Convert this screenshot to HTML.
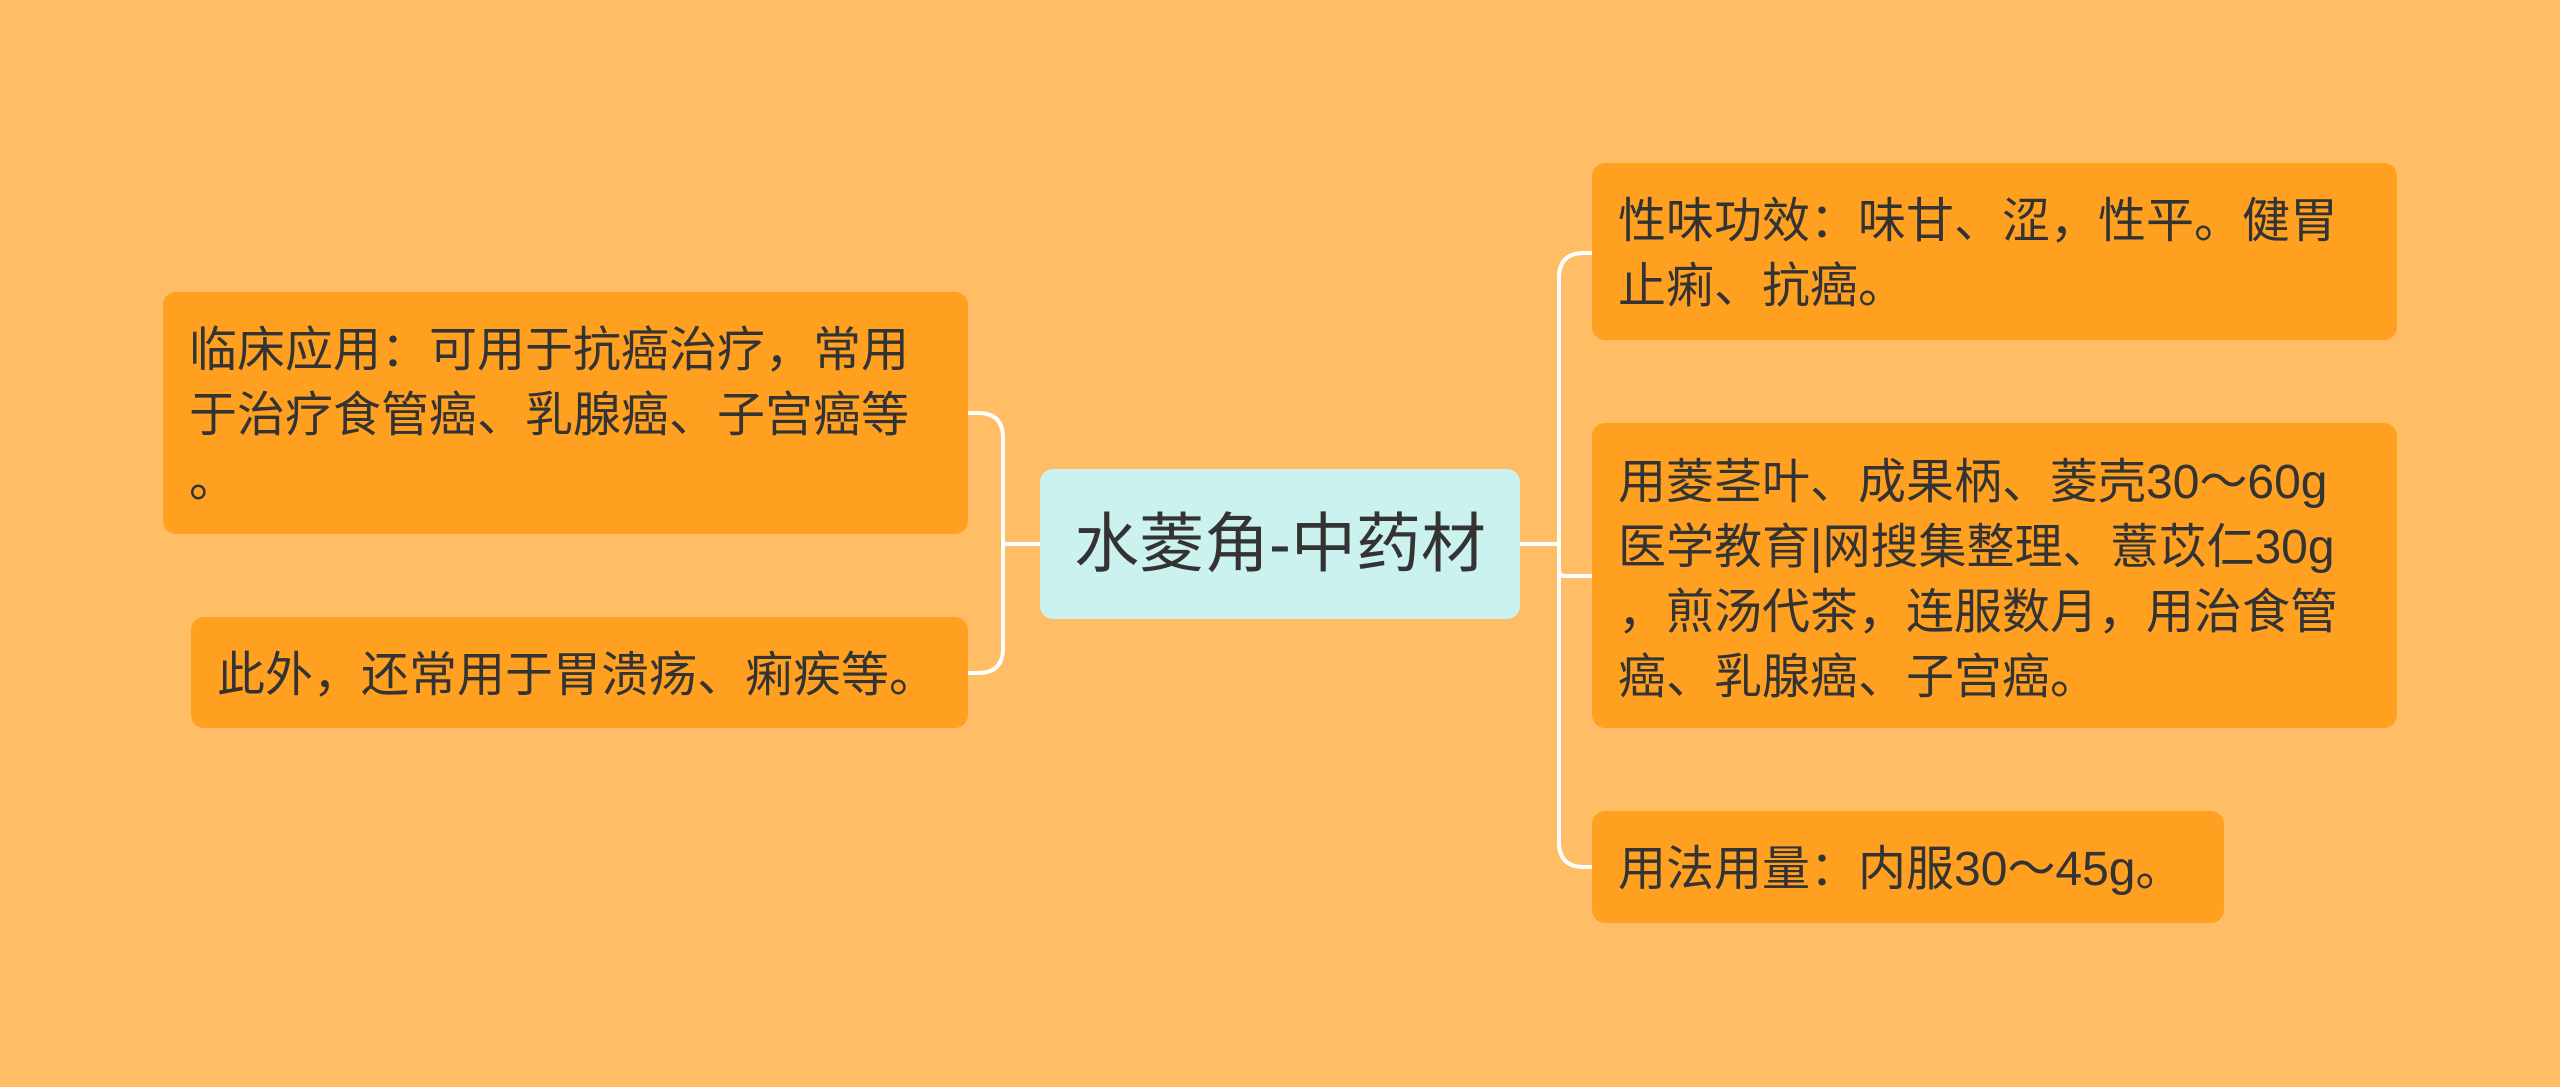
<!DOCTYPE html>
<html><head><meta charset="utf-8"><style>
body{margin:0;width:2560px;height:1087px;background:#FFBE66;position:relative;overflow:hidden;font-family:"Liberation Sans","Noto Sans CJK SC",sans-serif;}
.n{position:absolute;background:#FFA020;border-radius:13px;color:#333;font-size:48px;line-height:65px;box-sizing:border-box;padding:0 0 0 26px;white-space:nowrap;}
.c{position:absolute;left:1040px;top:469px;width:480px;height:150px;background:#CCF2F0;border-radius:13px;color:#333;font-size:65px;line-height:150px;text-align:center;}
</style></head><body>
<svg width="2560" height="1087" style="position:absolute;left:0;top:0" fill="none" stroke="#fff" stroke-width="4">
<path d="M1520 544 H1559"/>
<path d="M1592 253 H1584 Q1559 253 1559 278 V842 Q1559 867 1584 867 H1592"/>
<path d="M1559 570 Q1559 576 1565 576 H1592"/>
<path d="M1040 544 H1003"/>
<path d="M968 413 H978 Q1003 413 1003 438 V648 Q1003 673 978 673 H968"/>
</svg>
<div class="c">水菱角-中药材</div>
<div class="n" style="left:163px;top:292px;width:805px;height:242px;padding-top:26px">临床应用：可用于抗癌治疗，常用<br>于治疗食管癌、乳腺癌、子宫癌等<br>。</div>
<div class="n" style="left:191px;top:617px;width:777px;height:111px;padding-top:26px">此外，还常用于胃溃疡、痢疾等。</div>
<div class="n" style="left:1592px;top:163px;width:805px;height:177px;padding-top:26px">性味功效：味甘、涩，性平。健胃<br>止痢、抗癌。</div>
<div class="n" style="left:1592px;top:423px;width:805px;height:305px;padding-top:27px">用菱茎叶、成果柄、菱壳30～60g<br>医学教育|网搜集整理、薏苡仁30g<br>，煎汤代茶，连服数月，用治食管<br>癌、乳腺癌、子宫癌。</div>
<div class="n" style="left:1592px;top:811px;width:632px;height:112px;padding-top:26px">用法用量：内服30～45g。</div>
</body></html>
